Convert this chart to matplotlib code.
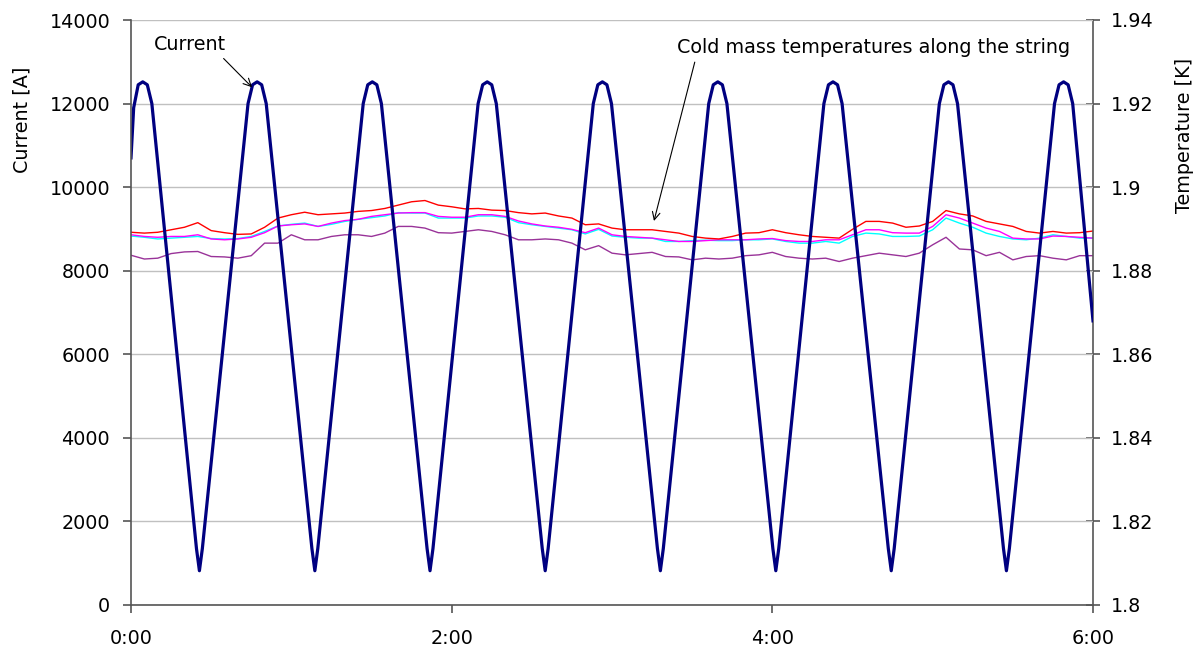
import numpy as np
import matplotlib
matplotlib.use("Agg")
from matplotlib import pyplot as plt
from matplotlib.ticker import FuncFormatter

plt.rcParams['font.family'] = ['DejaVu Sans']

# magnet current, breakpoints (minutes, A)
current_t = [0.0, 1.0, 2.7, 4.4, 6.1, 7.8,
             24.5, 25.6, 26.7,
             43.8, 45.5, 47.2, 48.9, 50.6,
             67.7, 68.8, 69.9,
             86.9, 88.6, 90.3, 92.0, 93.7,
             110.8, 111.9, 113.0,
             129.9, 131.6, 133.3, 135.0, 136.7,
             153.9, 155.0, 156.1,
             173.0, 174.7, 176.4, 178.1, 179.8,
             197.0, 198.1, 199.2,
             216.2, 217.9, 219.6, 221.3, 223.0,
             240.2, 241.3, 242.4,
             259.3, 261.0, 262.7, 264.4, 266.1,
             283.4, 284.5, 285.6,
             302.5, 304.2, 305.9, 307.6, 309.3,
             326.5, 327.6, 328.7,
             345.6, 347.3, 349.0, 350.7, 352.4,
             360.0]
current_a = [10700, 11900, 12450, 12520, 12450, 12000,
             1350, 820, 1350,
             12000, 12450, 12520, 12450, 12000,
             1350, 820, 1350,
             12000, 12450, 12520, 12450, 12000,
             1350, 820, 1350,
             12000, 12450, 12520, 12450, 12000,
             1350, 820, 1350,
             12000, 12450, 12520, 12450, 12000,
             1350, 820, 1350,
             12000, 12450, 12520, 12450, 12000,
             1350, 820, 1350,
             12000, 12450, 12520, 12450, 12000,
             1350, 820, 1350,
             12000, 12450, 12520, 12450, 12000,
             1350, 820, 1350,
             12000, 12450, 12520, 12450, 12000,
             6800]

# cold mass temperatures, one reading every 5 minutes (K)
temp_t = np.arange(0, 361, 5)
temp_red = [1.8892, 1.8890, 1.8892, 1.8898, 1.8904, 1.8915, 1.8896, 1.8891, 1.8887, 1.8888,
            1.8904, 1.8926, 1.8934, 1.8940, 1.8934, 1.8936, 1.8938, 1.8942, 1.8944, 1.8949,
            1.8957, 1.8965, 1.8968, 1.8957, 1.8953, 1.8948, 1.8949, 1.8945, 1.8944, 1.8939,
            1.8936, 1.8938, 1.8931, 1.8926, 1.8910, 1.8912, 1.8902, 1.8898, 1.8898, 1.8898,
            1.8894, 1.8890, 1.8882, 1.8878, 1.8876, 1.8882, 1.8890, 1.8891, 1.8898, 1.8891,
            1.8886, 1.8882, 1.8880, 1.8878, 1.8899, 1.8918, 1.8918, 1.8914, 1.8904, 1.8907,
            1.8918, 1.8944, 1.8936, 1.8931, 1.8918, 1.8912, 1.8906, 1.8894, 1.8890, 1.8894,
            1.8890, 1.8891, 1.8895]
temp_magenta = [1.8886, 1.8882, 1.8880, 1.8882, 1.8882, 1.8886, 1.8876, 1.8874, 1.8876, 1.8880,
                1.8891, 1.8907, 1.8910, 1.8912, 1.8906, 1.8914, 1.8920, 1.8923, 1.8930, 1.8934,
                1.8938, 1.8939, 1.8939, 1.8930, 1.8928, 1.8928, 1.8934, 1.8934, 1.8930, 1.8919,
                1.8912, 1.8907, 1.8904, 1.8899, 1.8891, 1.8902, 1.8886, 1.8882, 1.8880, 1.8878,
                1.8874, 1.8870, 1.8870, 1.8872, 1.8874, 1.8874, 1.8874, 1.8876, 1.8877, 1.8872,
                1.8870, 1.8870, 1.8874, 1.8874, 1.8886, 1.8898, 1.8898, 1.8891, 1.8890, 1.8890,
                1.8906, 1.8934, 1.8926, 1.8914, 1.8902, 1.8894, 1.8878, 1.8876, 1.8876, 1.8883,
                1.8882, 1.8880, 1.8878]
temp_cyan = [1.8883, 1.8880, 1.8876, 1.8878, 1.8880, 1.8882, 1.8877, 1.8876, 1.8877, 1.8882,
             1.8894, 1.8907, 1.8911, 1.8914, 1.8906, 1.8911, 1.8918, 1.8923, 1.8927, 1.8931,
             1.8939, 1.8938, 1.8938, 1.8926, 1.8926, 1.8926, 1.8931, 1.8931, 1.8928, 1.8915,
             1.8910, 1.8906, 1.8902, 1.8898, 1.8888, 1.8899, 1.8883, 1.8880, 1.8878, 1.8878,
             1.8870, 1.8870, 1.8872, 1.8873, 1.8872, 1.8872, 1.8874, 1.8874, 1.8876, 1.8870,
             1.8866, 1.8866, 1.8870, 1.8866, 1.8882, 1.8890, 1.8888, 1.8882, 1.8882, 1.8883,
             1.8898, 1.8926, 1.8914, 1.8904, 1.8890, 1.8882, 1.8876, 1.8874, 1.8878, 1.8886,
             1.8882, 1.8878, 1.8878]
temp_purple = [1.8837, 1.8828, 1.8830, 1.8841, 1.8845, 1.8846, 1.8834, 1.8833, 1.8830, 1.8836,
               1.8866, 1.8866, 1.8886, 1.8874, 1.8874, 1.8882, 1.8886, 1.8886, 1.8882, 1.8890,
               1.8906, 1.8906, 1.8902, 1.8891, 1.8890, 1.8894, 1.8898, 1.8894, 1.8886, 1.8874,
               1.8874, 1.8876, 1.8874, 1.8866, 1.8850, 1.8860, 1.8842, 1.8838, 1.8841, 1.8844,
               1.8834, 1.8833, 1.8826, 1.8830, 1.8828, 1.8830, 1.8836, 1.8838, 1.8844, 1.8834,
               1.8830, 1.8828, 1.8830, 1.8822, 1.8830, 1.8836, 1.8842, 1.8838, 1.8834, 1.8842,
               1.8862, 1.8880, 1.8852, 1.8850, 1.8836, 1.8844, 1.8826, 1.8834, 1.8836, 1.8830,
               1.8826, 1.8836, 1.8836]

x_ticks = [0, 120, 240, 360]
x_labels = ['0:00', '2:00', '4:00', '6:00']

fig = plt.figure(figsize=(11.98, 6.5), dpi=100)
ax = fig.add_axes([131/1198, 45/650, 962/1198, 585/650])
ax2 = ax.twinx()

# temperatures on the right axis, current drawn on top
ax2.plot(temp_t, temp_purple, color='#993399', lw=1.0)
ax2.plot(temp_t, temp_cyan, color='#00FFFF', lw=1.0)
ax2.plot(temp_t, temp_magenta, color='#FF00FF', lw=1.0)
ax2.plot(temp_t, temp_red, color='#FF0000', lw=1.0)
ax.plot(current_t, current_a, color='#000080', lw=2.3)

ax.set_zorder(ax2.get_zorder() + 1)
ax.patch.set_visible(False)

ax.set_xlim(0, 360)
ax.set_ylim(0, 14000)
ax2.set_ylim(1.8, 1.94)
ax.set_xticks(x_ticks)
ax.set_xticklabels(x_labels)
ax.set_yticks(np.arange(0, 14001, 2000))
ax2.set_yticks(np.arange(1.8, 1.9401, 0.02))
ax2.yaxis.set_major_formatter(FuncFormatter(lambda v, p: '%g' % round(v, 2)))

ax.grid(axis='y', color='#C0C0C0', lw=1.0)
for a in (ax, ax2):
    a.spines['top'].set_visible(False)
    for s in a.spines.values():
        s.set_color('#555555')
        s.set_linewidth(1.2)
ax.spines['right'].set_visible(False)
ax2.spines['left'].set_visible(False)
ax2.spines['bottom'].set_visible(False)

ax.tick_params(axis='y', direction='out', length=6, width=1.2, color='#555555',
               labelsize=13.8, pad=9)
ax.tick_params(axis='x', direction='out', length=6, width=1.2, color='#555555',
               labelsize=13.8, pad=11)
ax2.tick_params(axis='y', direction='inout', length=10, width=1.2, color='#555555',
                labelsize=13.8, pad=8)

fig.text(22/1198, 1 - 120/650, 'Current [A]', rotation=90, ha='center', va='center',
         fontsize=13.8)
fig.text(1184/1198, 1 - 135/650, 'Temperature [K]', rotation=90, ha='center', va='center',
         fontsize=13.8)

arrow = dict(arrowstyle='->', color='black', lw=0.8, shrinkA=2, shrinkB=0)
ax.annotate('Current', xy=(45.3, 12390), xytext=(22.1, 13420),
            ha='center', va='center', fontsize=13.8,
            arrowprops=dict(arrow, relpos=(0.9, 0)))
ax.annotate('Cold mass temperatures along the string', xy=(195.7, 9190),
            xytext=(277.7, 13350), ha='center', va='center', fontsize=13.8,
            arrowprops=dict(arrow, relpos=(0.05, 0)))

fig.savefig('out.png', dpi=100)
